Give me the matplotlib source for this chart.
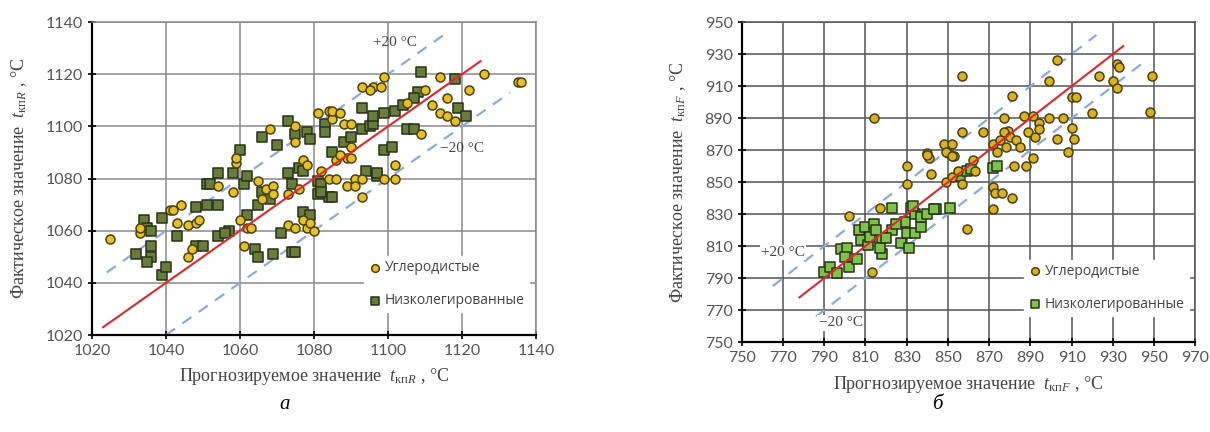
import matplotlib.pyplot as plt

plt.rcParams['mathtext.fontset'] = 'custom'
plt.rcParams['mathtext.rm'] = 'Liberation Serif'
plt.rcParams['mathtext.it'] = 'Liberation Serif:italic'

# panel a
a_c_x = [1025, 1033, 1033, 1041, 1042, 1044, 1043, 1046, 1046, 1047, 1048, 1049, 1054, 1058, 1059, 1059,
         1061, 1060, 1062, 1063, 1065, 1066, 1067, 1069, 1069, 1068, 1073, 1073, 1075, 1075, 1076, 1077,
         1078, 1077, 1078, 1081, 1084, 1085, 1084, 1086, 1088, 1089, 1090, 1089, 1091, 1093, 1096, 1099,
         1099, 1095, 1098, 1085, 1087, 1110, 1114, 1126, 1135, 1136, 1122, 1116, 1112, 1114, 1116, 1118,
         1109, 1105, 1090, 1102, 1086, 1091, 1093, 1102, 1075, 1079, 1080, 1093, 1082, 1087, 1090]
a_c_y = [1057, 1059, 1061, 1068, 1068, 1070, 1063, 1062, 1050, 1053, 1063, 1064, 1077, 1075, 1086, 1088,
         1054, 1064, 1061, 1061, 1079, 1072, 1076, 1077, 1074, 1099, 1062, 1074, 1100, 1094, 1076, 1064,
         1061, 1087, 1085, 1105, 1106, 1103, 1080, 1087, 1101, 1088, 1088, 1077, 1080, 1115, 1115, 1119,
         1080, 1114, 1115, 1106, 1105, 1114, 1119, 1120, 1117, 1117, 1114, 1111, 1108, 1105, 1104, 1102,
         1097, 1109, 1101, 1085, 1080, 1077, 1080, 1080, 1061, 1063, 1060, 1073, 1083, 1089, 1092]
a_s_x = [1032, 1034, 1035, 1036, 1036, 1036, 1035, 1039, 1040, 1039, 1043, 1048, 1048, 1050, 1051, 1052,
         1051, 1054, 1054, 1054, 1057, 1056, 1058, 1060, 1061, 1062, 1062, 1064, 1065, 1066, 1066, 1065,
         1068, 1069, 1070, 1071, 1073, 1073, 1074, 1074, 1076, 1075, 1077, 1077, 1078, 1079, 1081, 1081,
         1083, 1083, 1084, 1085, 1088, 1090, 1093, 1093, 1095, 1096, 1097, 1094, 1096, 1099, 1099, 1109,
         1118, 1119, 1121, 1108, 1107, 1105, 1107, 1101, 1082, 1082, 1085, 1079, 1075, 1097, 1102, 1104]
a_s_y = [1051, 1064, 1061, 1060, 1054, 1050, 1048, 1043, 1046, 1065, 1058, 1069, 1054, 1054, 1078, 1078,
         1070, 1070, 1082, 1058, 1060, 1059, 1082, 1091, 1078, 1081, 1066, 1053, 1050, 1075, 1096, 1070,
         1072, 1051, 1093, 1059, 1102, 1082, 1078, 1052, 1084, 1097, 1083, 1067, 1098, 1095, 1079, 1074,
         1101, 1098, 1073, 1090, 1094, 1096, 1107, 1099, 1100, 1101, 1081, 1083, 1104, 1105, 1091, 1121,
         1118, 1107, 1104, 1113, 1111, 1099, 1099, 1092, 1078, 1075, 1073, 1066, 1052, 1082, 1106, 1108]

# panel б
b_c_x = [857, 814, 830, 830, 840, 841, 842, 848, 850, 853, 852, 857, 867, 817, 802, 859, 813, 849, 852,
         855, 857, 862, 872, 872, 873, 872, 863, 903, 899, 923, 932, 933, 930, 932, 949, 948, 910, 912,
         881, 920, 877, 887, 891, 899, 906, 910, 894, 879, 903, 911, 908, 889, 892, 894, 849, 852, 840,
         877, 880, 883, 885, 874, 878, 882, 888, 891, 875, 876, 881]
b_c_y = [916, 890, 860, 849, 868, 865, 855, 874, 868, 866, 874, 881, 881, 834, 829, 821, 794, 850, 853,
         857, 849, 864, 874, 847, 843, 833, 857, 926, 913, 916, 924, 922, 913, 909, 916, 894, 903, 903,
         904, 893, 890, 891, 891, 890, 890, 884, 887, 882, 877, 877, 869, 881, 878, 883, 869, 866, 867,
         881, 878, 876, 872, 869, 872, 860, 860, 865, 876, 843, 840]
b_s_x = [790, 793, 796, 798, 801, 800, 802, 806, 807, 810, 808, 814, 814, 811, 818, 818, 817, 823, 823,
         827, 829, 830, 831, 832, 834, 834, 837, 837, 840, 844, 851, 825, 856, 859, 861, 872, 874, 833,
         843, 820, 812, 815]
b_s_y = [794, 797, 793, 808, 809, 803, 797, 802, 820, 822, 814, 824, 818, 811, 815, 805, 809, 834, 820,
         812, 825, 818, 809, 834, 830, 818, 822, 828, 830, 833, 834, 824, 854, 857, 858, 859, 860, 835,
         833, 815, 816, 820]

fig = plt.figure(figsize=(12.1, 4.32), dpi=100)
ax1 = fig.add_axes([0.076, 0.2245, 0.367, 0.7245])
ax2 = fig.add_axes([0.613, 0.208, 0.375, 0.741])

def style(ax, lo, hi, step, gridc):
    ax.set_xlim(lo[0], hi[0])
    ax.set_ylim(lo[1], hi[1])
    ax.set_xticks(range(lo[0], hi[0] + 1, step))
    ax.set_yticks(range(lo[1], hi[1] + 1, step))
    ax.grid(True, color=gridc, lw=1.1, zorder=0)
    ax.set_axisbelow(True)
    for s in ['top', 'right']:
        ax.spines[s].set_color(gridc)
        ax.spines[s].set_linewidth(1.1)
    for s in ['left', 'bottom']:
        ax.spines[s].set_color('black')
        ax.spines[s].set_linewidth(1.6)
    ax.tick_params(direction='inout', length=6, width=1.2, colors='black',
                   labelcolor='#555555', labelsize=11.5)
    for lab in ax.get_xticklabels() + ax.get_yticklabels():
        lab.set_family('Lato')

circ_kw = dict(marker='o', s=42, edgecolors='#4a4010', linewidths=1.1, zorder=4)
sq_kw = dict(marker='s', s=48, edgecolors='#2a3018', linewidths=1.1, zorder=3)

# panel a
style(ax1, (1020, 1020), (1140, 1140), 20, '#8a8a8a')
ax1.plot([1023, 1125], [1023, 1125], color='#e3262e', lw=1.5, zorder=5)
ax1.plot([1024, 1115], [1044, 1135], color='#8eaadb', lw=1.6, ls=(0, (5, 4)), zorder=2)
ax1.plot([1040, 1133], [1020, 1113], color='#8eaadb', lw=1.6, ls=(0, (5, 4)), zorder=2)
ax1.scatter(a_s_x, a_s_y, color='#687c3c', label='Низколегированные', **sq_kw)
ax1.scatter(a_c_x, a_c_y, color='#e6c21e', label='Углеродистые', **circ_kw)
ax1.text(1102, 1132, '+20 °C', fontsize=11, family='Liberation Serif', color='#444444', ha='center', va='center', zorder=6)
ax1.text(1120, 1091.5, '−20 °C', fontsize=11, family='Liberation Serif', color='#444444', ha='center', va='center', zorder=6)
h, l = ax1.get_legend_handles_labels()
leg = ax1.legend(h[::-1], l[::-1], loc='lower right', bbox_to_anchor=(1.0, 0.05), frameon=True,
                 facecolor='white', edgecolor='white', framealpha=1, labelspacing=1.3, markerscale=0.85,
                 handletextpad=0.2, prop={'family': 'Open Sans', 'size': 10}, borderpad=0.3, handlelength=1)
for t in leg.get_texts():
    t.set_color('#444444')
ax1.set_xlabel(r'Прогнозируемое значение  $t_{\mathrm{кп}R}$ , °C', family='Liberation Serif',
               fontsize=13, color='#444444', labelpad=6)
ax1.set_ylabel(r'Фактическое значение  $t_{\mathrm{кп}R}$ , °C', family='Liberation Serif',
               fontsize=13, color='#444444', labelpad=12)

# panel б
style(ax2, (750, 750), (970, 950), 20, '#555555')
ax2.plot([778, 935], [778, 935], color='#e3262e', lw=1.5, zorder=5)
ax2.plot([765, 922], [785, 942], color='#8eaadb', lw=1.6, ls=(0, (5, 4)), zorder=2)
ax2.plot([786, 945], [766, 925], color='#8eaadb', lw=1.6, ls=(0, (5, 4)), zorder=2)
ax2.scatter(b_s_x, b_s_y, color='#7dc24a', label='Низколегированные', **sq_kw)
ax2.scatter(b_c_x, b_c_y, color='#d9b31a', label='Углеродистые', **circ_kw)
bb = dict(facecolor='white', edgecolor='none', pad=1)
ax2.text(770, 806, '+20 °C', fontsize=11, family='Liberation Serif', color='#444444', ha='center', va='center', bbox=bb, zorder=6)
ax2.text(798, 762, '−20 °C', fontsize=11, family='Liberation Serif', color='#444444', ha='center', va='center', bbox=bb, zorder=6)
h, l = ax2.get_legend_handles_labels()
leg = ax2.legend(h[::-1], l[::-1], loc='lower right', bbox_to_anchor=(1.0, 0.06), frameon=True,
                 facecolor='white', edgecolor='white', framealpha=1, labelspacing=1.3, markerscale=0.85,
                 handletextpad=0.2, prop={'family': 'Open Sans', 'size': 10}, borderpad=0.3, handlelength=1)
for t in leg.get_texts():
    t.set_color('#444444')
ax2.set_xlabel(r'Прогнозируемое значение  $t_{\mathrm{кп}F}$ , °C', family='Liberation Serif',
               fontsize=13, color='#444444', labelpad=6)
ax2.set_ylabel(r'Фактическое значение  $t_{\mathrm{кп}F}$ , °C', family='Liberation Serif',
               fontsize=13, color='#444444', labelpad=12)

fig.text(0.235, 0.063, 'а', fontsize=15, style='italic', family='Liberation Serif', ha='center', va='center')
fig.text(0.775, 0.063, 'б', fontsize=15, style='italic', family='Liberation Serif', ha='center', va='center')

fig.savefig('out.png', dpi=100)
